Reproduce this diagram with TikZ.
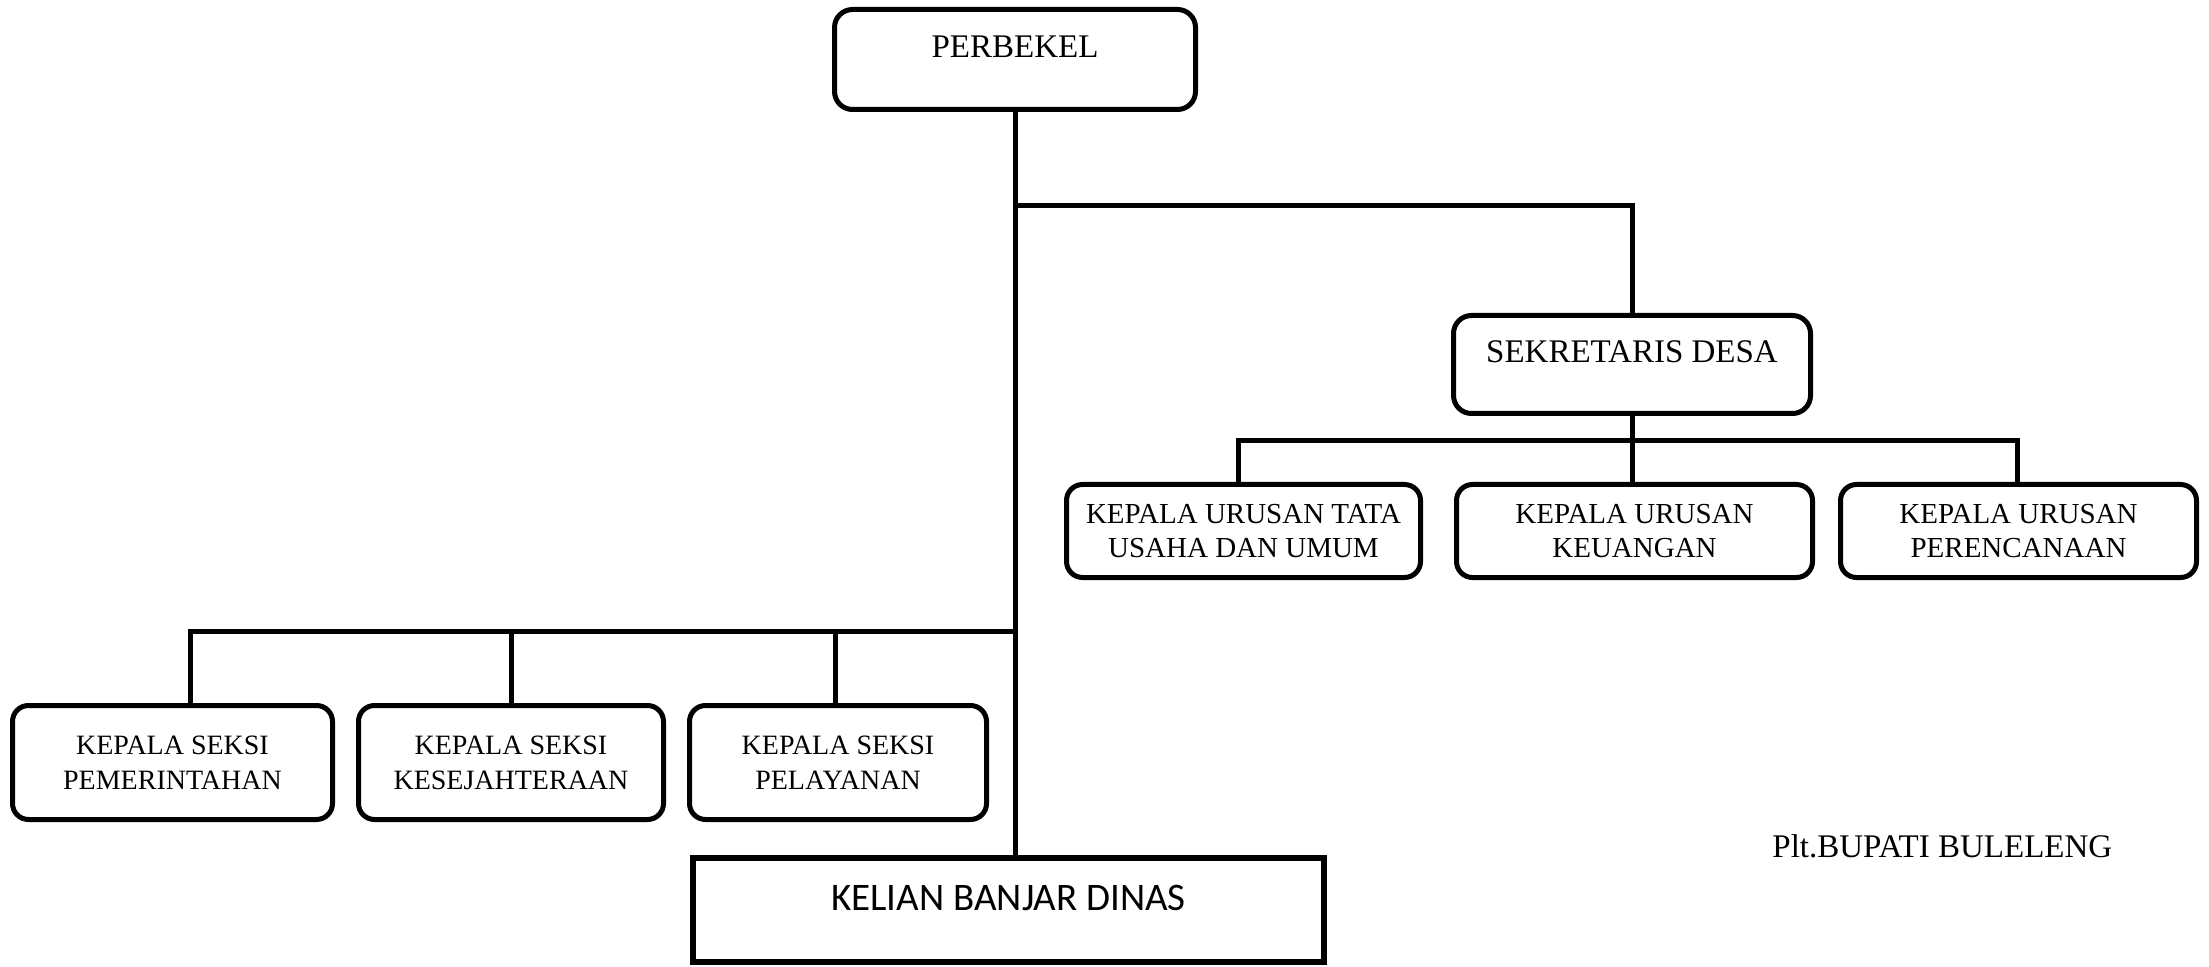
\documentclass[tikz,border=0pt]{standalone}
\usepackage{fontspec}
\setmainfont{Liberation Serif}
\newfontfamily\kelianfont{Carlito}
\tikzstyle{unit} = [rectangle, draw, rounded corners=8pt, line width=2.5pt, inner sep=0pt]
\tikzstyle{headunit} = [unit, rounded corners=9pt, text depth=13pt, font=\fontsize{16.5}{20}\selectfont]
\tikzstyle{subunit} = [unit, align=center, font=\fontsize{14}{17.5}\selectfont]
\tikzstyle{link} = [line width=2.5pt]

\begin{document}
\begin{tikzpicture}[x=0.5pt,y=-0.5pt]
  \useasboundingbox (0,0) rectangle (2209,967);
  \node[headunit, minimum width=180.5pt, minimum height=50pt] (perbekel) at (1015,59.5) {PERBEKEL};
  \node[headunit, minimum width=178.5pt, minimum height=49pt] (sekdes) at (1632,364.5) {SEKRETARIS DESA};
  % kepala urusan
  \node[subunit, font=\fontsize{14.5}{17}\selectfont, minimum width=177pt, minimum height=46.5pt] (urusan_tu) at (1243.5,531) {KEPALA URUSAN TATA\\USAHA DAN UMUM};
  \node[subunit, font=\fontsize{14.5}{17}\selectfont, minimum width=178pt, minimum height=46.5pt] (urusan_keu) at (1634.5,531) {KEPALA URUSAN\\KEUANGAN};
  \node[subunit, font=\fontsize{14.5}{17}\selectfont, minimum width=178pt, minimum height=46.5pt] (urusan_ren) at (2018.5,531) {KEPALA URUSAN\\PERENCANAAN};
  % kepala seksi
  \node[subunit, minimum width=160pt, minimum height=57pt] (seksi_pem) at (172.5,762.5) {KEPALA SEKSI\\PEMERINTAHAN};
  \node[subunit, minimum width=152.5pt, minimum height=57pt] (seksi_kes) at (511,762.5) {KEPALA SEKSI\\KESEJAHTERAAN};
  \node[subunit, minimum width=148.5pt, minimum height=57pt] (seksi_pel) at (838,762.5) {KEPALA SEKSI\\PELAYANAN};
  \node[rectangle, draw, line width=3pt, minimum width=315.5pt, minimum height=52pt, text depth=12.5pt, font=\kelianfont\fontsize{19.5}{23}\selectfont] (kelian) at (1008.5,910) {KELIAN BANJAR DINAS};
  \node[anchor=base west, inner sep=0pt, font=\fontsize{16.5}{20}\selectfont] (bupati) at (1772,857) {Plt.BUPATI BULELENG};

  \coordinate (sekbus) at (1015,206);
  \coordinate (urbus) at (1632,441);
  \coordinate (seksibus) at (1015,631);

  \draw[link] (perbekel.south) -- (perbekel.south |- kelian.north);
  \draw[link] (sekbus) -| (sekdes.north);
  \draw[link] (sekdes.south) -- (sekdes.south |- urusan_keu.north);
  \draw[link] ([xshift=-2.5pt]urusan_tu.north) |- (urbus) -| ([xshift=-0.75pt]urusan_ren.north);
  \draw[link] ([xshift=9pt]seksi_pem.north) |- (seksibus);
  \draw[link] (seksi_kes.north) |- (seksibus);
  \draw[link] ([xshift=-1.5pt]seksi_pel.north) |- (seksibus);
\end{tikzpicture}
\end{document}
